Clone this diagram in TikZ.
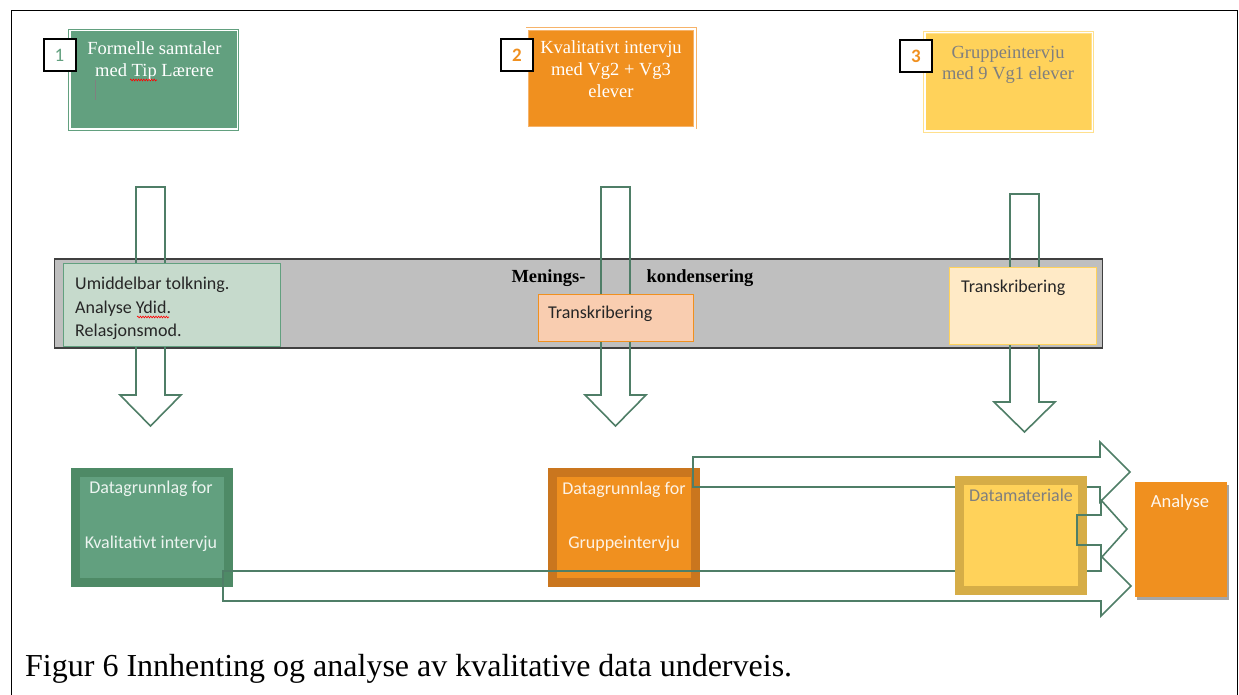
\documentclass[tikz,border=0pt]{standalone}
\usepackage{fontspec}
\setmainfont{Liberation Serif}
\newfontfamily\calfont{Carlito}
\usetikzlibrary{shadows,decorations.pathmorphing}
\definecolor{cgreen}{HTML}{62A07F}
\definecolor{cgreendk}{HTML}{4E8A66}
\definecolor{corange}{HTML}{F0901F}
\definecolor{corangelt}{HTML}{F6B36A}
\definecolor{corangedk}{HTML}{CA761E}
\definecolor{cyellow}{HTML}{FFD25A}
\definecolor{cyellowlt}{HTML}{FFE08E}
\definecolor{cyellowdk}{HTML}{D6AD47}
\definecolor{clgreen}{HTML}{C6DACC}
\definecolor{cpeach}{HTML}{F9CDB0}
\definecolor{clyellow}{HTML}{FFEAC6}
\definecolor{cband}{HTML}{BFBFBF}
\definecolor{cbanddk}{HTML}{404040}
\definecolor{carrow}{HTML}{4F7E67}
\definecolor{cgraytext}{HTML}{7F7F7F}
\definecolor{cdarktext}{HTML}{262626}
\begin{document}
\begin{tikzpicture}[x=1pt,y=-1pt,
  arr/.style={draw=carrow, line width=1.6pt, line join=miter},
  topbox/.style={draw=#1, fill=#1, double=white, double distance=1.6pt, line width=0.9pt,
     minimum width=167.6pt, minimum height=98.6pt, inner sep=0pt},
  numbox/.style={draw=black, fill=white, line width=2pt, minimum size=32pt, inner sep=0pt,
     font=\calfont\fontsize{19}{21}\selectfont},
  ttext/.style={anchor=base, inner sep=0pt, font=\fontsize{18.5}{21.5}\selectfont},
  ctext/.style={anchor=base, inner sep=0pt, font=\calfont\fontsize{18}{22}\selectfont},
  botbox/.style={line width=9pt, inner sep=0pt,
     drop shadow={shadow xshift=1.5pt, shadow yshift=-2.5pt, opacity=0.35, fill=black}},
]
\useasboundingbox (0,0) rectangle (1239,695);
\fill[white] (0,0) rectangle (1239,695);
% frame
\draw[black, line width=1pt] (11,700) -- (11,11) -- (1237,11) -- (1237,700);

% top boxes
\node[topbox=cgreen] (b1) at (153.5,80) {};
\node[topbox=corange, draw=corangelt] (b2) at (611,78.5) {};
\node[topbox=cyellowlt, fill=cyellow] (b3) at (1008.5,82) {};

\node[ttext, text=white] (t1a) at (154.5,55) {Formelle samtaler};
\node[ttext, text=white] (t1b) at (154.5,76.5) {med Tip Lærere};
\draw[red, line width=0.6pt, decorate, decoration={snake, amplitude=0.9pt, segment length=2.6pt}] (130,80) -- (157,80);
\draw[gray, line width=1pt] (95,80) -- (95,100);

\node[ttext, text=white] (t2a) at (611,54) {Kvalitativt intervju};
\node[ttext, text=white] (t2b) at (611,76) {med Vg2 + Vg3};
\node[ttext, text=white] (t2c) at (611,97.5) {elever};

\node[ttext, text=cgraytext] (t3a) at (1008,59) {Gruppeintervju};
\node[ttext, text=cgraytext] (t3b) at (1008,80) {med 9 Vg1 elever};

\node[numbox, text=cgreen] (n1) at (59.5,55.5) {1};
\node[numbox, text=corange, font=\calfont\bfseries\fontsize{19}{21}\selectfont] (n2) at (517,55.5) {2};
\node[numbox, text=corange, font=\calfont\bfseries\fontsize{19}{21}\selectfont] (n3) at (916,56.5) {3};

% band
\node[draw=cbanddk, fill=cband, line width=1.2pt, minimum width=1048pt, minimum height=89pt, inner sep=0pt] (band) at (578.5,303.5) {};
\node[anchor=base, inner sep=0pt, font=\bfseries\fontsize{18.5}{21}\selectfont] (men) at (548.5,282) {Menings-};
\node[anchor=base, inner sep=0pt, font=\bfseries\fontsize{18.5}{21}\selectfont] (kon) at (700,282) {kondensering};

% vertical block arrows
\draw[arr] (136,187) -- (165,187) -- (165,395) -- (181,395) -- (150.5,426) -- (120,395) -- (136,395) -- cycle;
\draw[arr] (601,187) -- (630,187) -- (630,395) -- (646,395) -- (615.5,426) -- (585,395) -- (601,395) -- cycle;
\draw[arr] (1010,194) -- (1039,194) -- (1039,402) -- (1055,402) -- (1024.5,432) -- (994,402) -- (1010,402) -- cycle;

% band boxes
\node[draw=cgreen, fill=clgreen, line width=1pt, minimum width=217pt, minimum height=83pt, inner sep=0pt] (bx1) at (171.5,304.5) {};
\node[ctext, anchor=base west, text=cdarktext] (l1) at (75,289) {Umiddelbar tolkning.};
\node[ctext, anchor=base west, text=cdarktext] (l2) at (75,313) {Analyse Ydid.};
\node[ctext, anchor=base west, text=cdarktext] (l3) at (75,336) {Relasjonsmod.};
\draw[red, line width=0.6pt, decorate, decoration={snake, amplitude=0.9pt, segment length=2.6pt}] (137,317) -- (169,317);

\node[draw=corange, fill=cpeach, line width=1pt, minimum width=155pt, minimum height=47pt, inner sep=0pt] (bx2) at (615.5,317.5) {};
\node[ctext, anchor=base west, text=cdarktext] (tr2) at (548,318.5) {Transkribering};

\node[draw=cyellow, fill=clyellow, line width=1pt, minimum width=147pt, minimum height=77pt, inner sep=0pt] (bx3) at (1022.5,305.5) {};
\node[ctext, anchor=base west, text=cdarktext] (tr3) at (961,292) {Transkribering};

% bottom boxes
\node[botbox, draw=cgreendk, fill=cgreen, minimum width=153pt, minimum height=110pt] (d1) at (152,527.5) {};
\node[ctext, text=white!88!cgreen] (d1a) at (151,493) {Datagrunnlag for};
\node[ctext, text=white!88!cgreen] (d1b) at (151,548) {Kvalitativt intervju};

\node[botbox, draw=corangedk, fill=corange, minimum width=143pt, minimum height=110pt] (d2) at (624,527.5) {};
\node[ctext, text=white!88!corange] (d2a) at (624,494) {Datagrunnlag for};
\node[ctext, text=white!88!corange] (d2b) at (624,548) {Gruppeintervju};

% horizontal arrows A and C
\draw[arr] (693,457) -- (1100,457) -- (1100,442) -- (1130,472) -- (1100,502) -- (1100,487) -- (693,487) -- cycle;
\draw[arr] (223,571) -- (1101,571) -- (1101,556) -- (1131,586) -- (1101,616) -- (1101,601) -- (223,601) -- cycle;

% Datamateriale
\node[botbox, draw=cyellowdk, fill=cyellow, minimum width=123pt, minimum height=110pt] (dm) at (1021,535.5) {};
\node[ctext, text=cgraytext] (dmt) at (1021,501.5) {Datamateriale};

% arrow B
\draw[arr] (1077,515) -- (1101,515) -- (1101,500) -- (1127,529) -- (1101,558) -- (1101,545) -- (1077,545) -- cycle;

% Analyse
\node[fill=corange, minimum width=92pt, minimum height=115pt, inner sep=0pt,
  drop shadow={shadow xshift=1.5pt, shadow yshift=-2.5pt, opacity=0.35, fill=black}] (an) at (1181,539.5) {};
\node[ctext, text=white!92!corange, font=\calfont\fontsize{18.5}{22}\selectfont] (ant) at (1180,507) {Analyse};

% caption
\node[anchor=base west, inner sep=0pt, font=\fontsize{32}{36}\selectfont] (cap) at (25,676) {Figur 6 Innhenting og analyse av kvalitative data underveis.};
\end{tikzpicture}
\end{document}
